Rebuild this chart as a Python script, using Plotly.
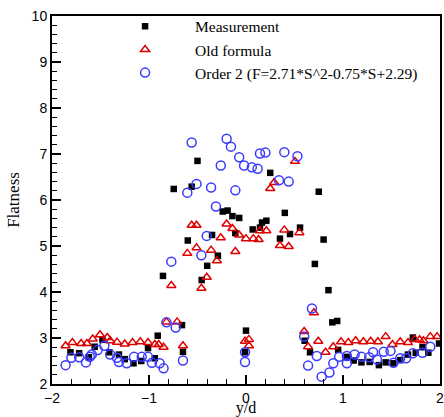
import plotly.graph_objects as go

meas_x = [-1.81, -1.72, -1.62, -1.56, -1.48, -1.41, -1.31, -1.25, -1.16, -1.08,
          -1.01, -0.94, -0.91, -0.856, -0.745, -0.66, -0.65, -0.60, -0.56, -0.50,
          -0.457, -0.40, -0.35, -0.29, -0.24, -0.19, -0.14, -0.11, -0.07, 0.0,
          -0.01, 0.069, 0.144, 0.165, 0.21, 0.25, 0.35, 0.40, 0.454, 0.557,
          0.605, 0.66, 0.71, 0.75, 0.80, 0.85, 0.89, 0.94, 0.95, 1.04,
          1.11, 1.19, 1.275, 1.37, 1.44, 1.52, 1.59, 1.67, 1.72, 1.75,
          1.82, 1.88, 1.99]
meas_y = [2.69, 2.67, 2.58, 2.81, 2.96, 2.69, 2.64, 2.54, 2.45, 2.50,
          2.78, 2.56, 3.05, 4.35, 6.24, 3.28, 2.70, 5.12, 6.29, 6.85,
          4.26, 4.57, 5.24, 4.79, 5.75, 5.77, 5.65, 5.28, 5.61, 3.16,
          2.69, 5.36, 5.40, 5.51, 5.55, 6.59, 5.16, 5.72, 5.26, 5.40,
          2.94, 2.69, 4.61, 6.18, 5.14, 4.04, 3.34, 3.37, 2.74, 2.59,
          2.51, 2.47, 2.48, 2.41, 2.47, 2.45, 2.52, 2.64, 3.01, 2.68,
          2.80, 2.68, 2.88]

old_x = [-1.86, -1.79, -1.70, -1.64, -1.58, -1.505, -1.43, -1.40, -1.33, -1.25,
         -1.17, -1.09, -1.01, -0.94, -0.90, -0.85, -0.82, -0.77, -0.71, -0.65,
         -0.605, -0.56, -0.51, -0.51, -0.46, -0.405, -0.36, -0.30, -0.26, -0.20,
         -0.14, -0.11, -0.07, -0.01, 0.0, 0.03, 0.03, 0.075, 0.13, 0.144,
         0.21, 0.25, 0.29, 0.35, 0.395, 0.44, 0.505, 0.55, 0.60, 0.64,
         0.70, 0.745, 0.82, 0.90, 0.98, 1.055, 1.13, 1.21, 1.285, 1.36,
         1.44, 1.51, 1.59, 1.67, 1.74, 1.79, 1.83, 1.90, 1.97]
old_y = [2.83, 2.90, 2.88, 2.88, 2.98, 3.07, 3.01, 2.94, 2.91, 2.87,
         2.90, 2.92, 2.90, 2.86, 2.86, 2.80, 3.35, 4.14, 3.35, 2.83,
         4.84, 5.45, 5.45, 4.96, 4.08, 4.32, 4.91, 4.68, 5.18, 5.48,
         5.38, 4.88, 5.24, 2.93, 5.16, 2.97, 2.83, 5.16, 5.14, 5.33,
         5.33, 6.25, 6.38, 5.01, 5.35, 4.99, 6.84, 5.29, 3.14, 2.81,
         3.55, 2.93, 2.69, 2.81, 2.92, 2.90, 2.94, 2.92, 2.93, 2.92,
         3.03, 2.86, 2.92, 2.90, 2.97, 2.96, 2.94, 3.03, 3.03]

ord2_x = [-1.86, -1.80, -1.72, -1.65, -1.61, -1.59, -1.53, -1.46, -1.40, -1.33,
          -1.31, -1.23, -1.155, -1.075, -1.01, -0.97, -0.89, -0.85, -0.82, -0.77,
          -0.725, -0.65, -0.605, -0.56, -0.51, -0.46, -0.405, -0.36, -0.31, -0.26,
          -0.20, -0.155, -0.11, -0.07, -0.02, -0.01, -0.01, 0.06, 0.12, 0.144,
          0.20, 0.34, 0.395, 0.44, 0.53, 0.60, 0.64, 0.68, 0.73, 0.78,
          0.86, 0.90, 0.96, 1.04, 1.04, 1.12, 1.19, 1.27, 1.31, 1.35,
          1.42, 1.49, 1.52, 1.59, 1.65, 1.72, 1.82, 1.90]
ord2_y = [2.41, 2.57, 2.58, 2.47, 2.59, 2.64, 2.74, 2.83, 2.64, 2.57,
          2.48, 2.45, 2.59, 2.59, 2.59, 2.46, 2.45, 2.34, 3.34, 4.66,
          3.23, 2.51, 6.16, 7.25, 6.35, 4.80, 5.22, 6.27, 5.86, 6.75,
          7.33, 7.16, 6.21, 6.93, 6.75, 2.69, 2.48, 6.71, 6.68, 7.01,
          7.03, 6.43, 7.04, 6.40, 6.95, 3.03, 2.40, 3.64, 2.61, 2.16,
          2.25, 2.45, 2.59, 2.45, 2.61, 2.64, 2.59, 2.58, 2.69, 2.53,
          2.70, 2.72, 2.46, 2.56, 2.56, 2.67, 2.68, 2.81]

x_ticks = [-2, -1, 0, 1, 2]
y_ticks = [2, 3, 4, 5, 6, 7, 8, 9, 10]

SERIF = "Liberation Serif, Times New Roman, serif"
SANS = "Liberation Sans, Arial, sans-serif"

fig = go.Figure()
fig.add_trace(go.Scatter(x=meas_x, y=meas_y, mode="markers", name="Measurement",
                         marker=dict(symbol="square", size=6.5, color="black")))
fig.add_trace(go.Scatter(x=old_x, y=old_y, mode="markers", name="Old formula",
                         marker=dict(symbol="triangle-up-open", size=8, color="#e00000",
                                     line=dict(width=1.5, color="#e00000"))))
fig.add_trace(go.Scatter(x=ord2_x, y=ord2_y, mode="markers",
                         name="Order 2 (F=2.71*S^2-0.75*S+2.29)",
                         marker=dict(symbol="circle-open", size=9, color="#3a3aff",
                                     line=dict(width=1.5, color="#3a3aff"))))

axis_common = dict(showgrid=False, zeroline=False, showline=True, linecolor="black",
                   linewidth=2, mirror=True, ticks="inside", ticklen=9, tickwidth=1.5,
                   tickcolor="black", automargin=False, ticklabeloverflow="allow",
                   tickfont=dict(family=SANS, size=14, color="black"))

fig.update_xaxes(range=[-2, 2], tickvals=x_ticks,
                 minor=dict(dtick=0.2, ticks="inside", ticklen=5, tickwidth=1, tickcolor="black"),
                 title=dict(text="y/d", font=dict(family=SERIF, size=16, color="black"),
                            standoff=2),
                 **axis_common)
fig.update_yaxes(range=[2, 10], tickvals=y_ticks,
                 minor=dict(dtick=0.2, ticks="inside", ticklen=5, tickwidth=1, tickcolor="black"),
                 title=dict(text="Flatness", font=dict(family=SERIF, size=17, color="black"),
                            standoff=8),
                 **axis_common)

fig.update_layout(
    width=444, height=417,
    margin=dict(l=52, r=4, t=16, b=33, autoexpand=False),
    plot_bgcolor="white", paper_bgcolor="white",
    legend=dict(x=0.111, y=1.017, xanchor="left", yanchor="top",
                bgcolor="rgba(0,0,0,0)", itemwidth=90, tracegroupgap=0,
                font=dict(family=SERIF, size=15.5, color="black")),
)

fig.write_html("out.html", config={"displayModeBar": False},
               post_script="document.body.style.margin='0';document.body.style.overflow='hidden';")
